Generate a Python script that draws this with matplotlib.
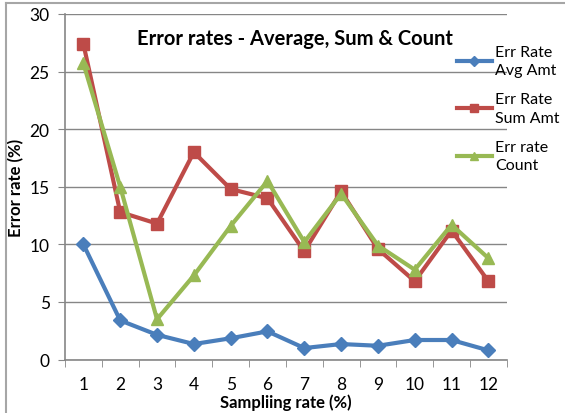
import numpy as np
import matplotlib.pyplot as plt
from matplotlib.lines import Line2D

plt.rcParams['font.family'] = ['Lato', 'DejaVu Sans']

rates = ['1', '2', '3', '4', '5', '6', '7', '8', '9', '10', '11', '12']
avg_amt = [10.0, 3.4, 2.15, 1.35, 1.85, 2.45, 1.0, 1.35, 1.2, 1.7, 1.7, 0.8]
sum_amt = [27.4, 12.8, 11.8, 18.0, 14.8, 14.0, 9.4, 14.6, 9.6, 6.8, 11.2, 6.8]
count = [25.7, 15.0, 3.5, 7.3, 11.6, 15.5, 10.2, 14.4, 9.9, 7.8, 11.7, 8.8]

labels = ['Err Rate\nAvg Amt', 'Err Rate\nSum Amt', 'Err rate\nCount']
colors = ['#4a7ebb', '#be4b48', '#98b954']
markers = ['D', 's', '^']
msizes = [7, 9, 9]

fig = plt.figure(figsize=(5.65, 4.14), dpi=100)
ax = fig.add_axes([0.115, 0.129, 0.782, 0.835])

x = np.arange(1, len(rates) + 1)
for ys, c, m, ms in zip([avg_amt, sum_amt, count], colors, markers, msizes):
    ax.plot(x, ys, color=c, lw=3, marker=m, markersize=ms, zorder=3)

ax.set_xlim(0.5, len(rates) + 0.5)
ax.set_ylim(0, 30)
ax.set_yticks(range(0, 31, 5))
ax.set_xticks(x)
ax.set_xticklabels(rates)
ax.set_xticks(np.arange(0.5, len(rates) + 1), minor=True)
ax.tick_params(axis='x', which='major', length=0, pad=12, labelsize=12.5)
ax.tick_params(axis='x', which='minor', length=5, color='#868686', direction='out')
ax.tick_params(axis='y', length=5, color='#868686', labelsize=12.5, pad=6)
ax.grid(axis='y', color='#868686', lw=1)
ax.set_axisbelow(True)
for s in ['top', 'right']:
    ax.spines[s].set_visible(False)
for s in ['left', 'bottom']:
    ax.spines[s].set_color('#868686')
    ax.spines[s].set_linewidth(1.2)

ax.set_xlabel('Sampliing rate (%)', fontsize=12, fontweight='bold', labelpad=1)
ax.set_ylabel('Error rate (%)', fontsize=12, fontweight='bold', labelpad=4)
ax.text(0.52, 0.93, 'Error rates - Average, Sum & Count', transform=ax.transAxes,
        ha='center', va='center', fontsize=14.5, fontweight='bold')

handles = [Line2D([], [], color=c, lw=3, marker=m, markersize=ms * 0.7)
           for c, m, ms in zip(colors, markers, msizes)]
leg = fig.legend(handles, labels, loc='upper left', bbox_to_anchor=(0.797, 0.905),
                 frameon=False, fontsize=11.5, handlelength=2.2, handletextpad=0.2,
                 labelspacing=0.95, borderaxespad=0.0)
for t in leg.get_texts():
    t.set_linespacing(1.4)

fig.add_artist(Line2D([6 / 565, 6 / 565], [0, 1 - 4 / 414], color='#a6a6a6', lw=1.5,
                      transform=fig.transFigure))
fig.add_artist(Line2D([6 / 565, 1], [1 - 4 / 414, 1 - 4 / 414], color='#a6a6a6', lw=1.5,
                      transform=fig.transFigure))

fig.savefig('out.png', dpi=100)
